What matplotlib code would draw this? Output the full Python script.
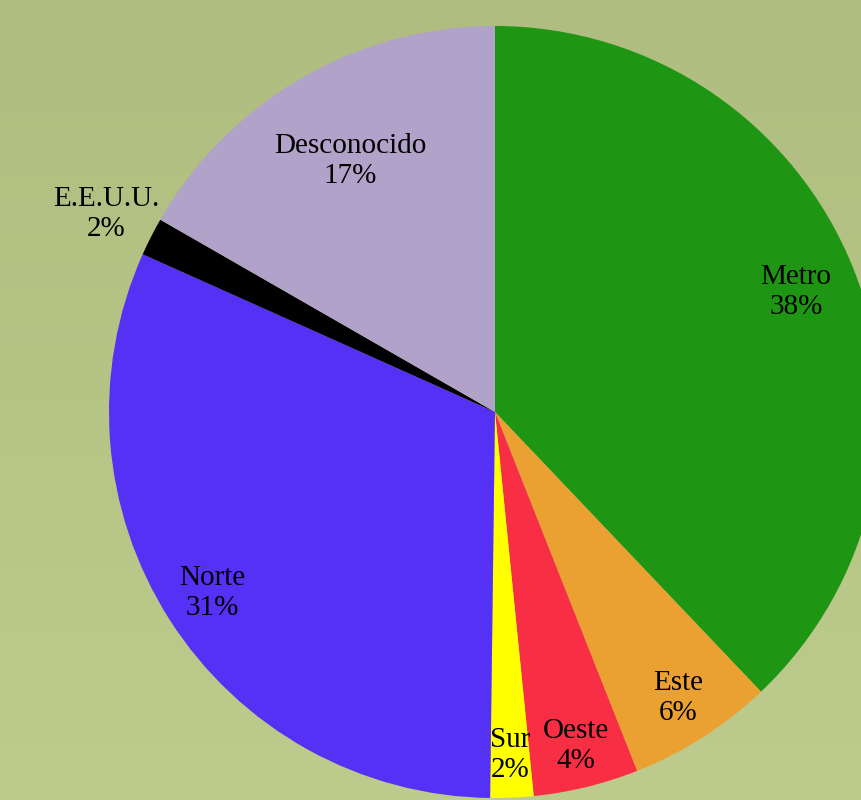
import numpy as np
import matplotlib
matplotlib.use("Agg")
import matplotlib.pyplot as plt
from matplotlib.colors import LinearSegmentedColormap

# --- data (clockwise from 12 o'clock) ---
regions = ["Metro", "Este", "Oeste", "Sur", "Norte", "E.E.U.U.", "Desconocido"]
shares = [37.9, 6.1, 4.4, 1.8, 31.5, 1.6, 16.7]
pct_labels = ["38%", "6%", "4%", "2%", "31%", "2%", "17%"]

colors = ["#1f9514", "#eba131", "#f82f44", "#ffff00", "#5530f5", "#000000", "#b0a2c8"]
label_dist = [0.84, 0.88, 0.89, 0.89, 0.87, 1.13, 0.75]

W, H = 862, 800
fig = plt.figure(figsize=(W / 100, H / 100), dpi=100)

# background gradient
bg = fig.add_axes([0, 0, 1, 1])
bg.set_axis_off()
cmap = LinearSegmentedColormap.from_list("bg", ["#bdcb8c", "#afbd80"])
grad = np.linspace(0, 1, 256).reshape(-1, 1)
bg.imshow(grad, cmap=cmap, aspect="auto", origin="lower", extent=[0, 1, 0, 1])

ax = fig.add_axes([0, 0, 1, 1])
cx, cy, r = 495, H - 412, 386
wedges, _ = ax.pie(shares, colors=colors, startangle=90, counterclock=False,
                   center=(cx, cy), radius=r, frame=True,
                   wedgeprops=dict(linewidth=0))
ax.set_xlim(0, W)
ax.set_ylim(0, H)
ax.set_aspect("equal")
ax.set_axis_off()

for w, name, pct, d in zip(wedges, regions, pct_labels, label_dist):
    ang = np.deg2rad((w.theta1 + w.theta2) / 2)
    x = cx + d * r * np.cos(ang)
    y = cy + d * r * np.sin(ang)
    ax.text(x, y, name + "\n" + pct, ha="center", va="center",
            fontsize=21, family="Liberation Serif", color="black",
            linespacing=1.2)

fig.savefig("out.png", dpi=100)
